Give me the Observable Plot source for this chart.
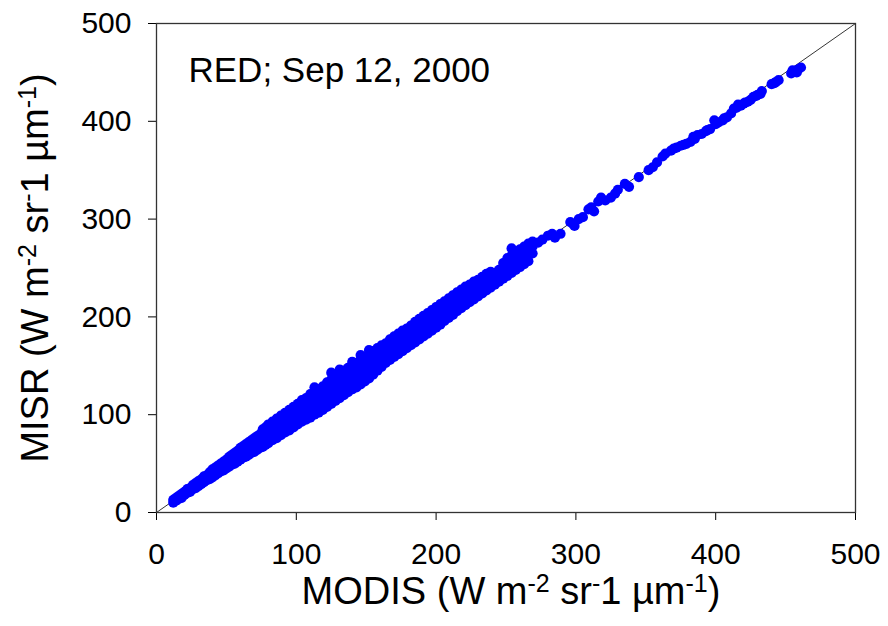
<!DOCTYPE html>
<html>
<head>
<meta charset="utf-8">
<script src="https://cdn.jsdelivr.net/npm/d3@7"></script>
<script src="https://cdn.jsdelivr.net/npm/@observablehq/plot@0.6"></script>
<style>
  html, body { margin: 0; padding: 0; background: #fff; }
  #chart svg { display: block; }
</style>
</head>
<body>
<div id="chart"></div>
<script>
// ---- Data ----
const xTicks = [0, 100, 200, 300, 400, 500];
const yTicks = [0, 100, 200, 300, 400, 500];
const annotation = ["RED; Sep 12, 2000"];
const identity = [0, 500]; // 1:1 reference line end values

// Dense part of the cloud: MODIS value per column, MISR values in that column
const modisCols = [12,14,16,18,20,22,24,26,28,30,32,34,36,38,40,42,44,46,48,50,
  52,54,56,58,60,62,64,66,68,70,72,74,76,78,80,83,86,89,92,95,98,101,104,107,110,
  113,116,119,122,125,128,131,134,137,140,143,146,149,152,155,158,161,164,167,170,
  173,176,179,182,185,188,191,194,197,200,203,206,209,212,215,218,221,224,227,230,
  233,236,239,242,245,248,251,254,257,260,263,266,269];
const misrCols = [
  [10,13],[12,15],[14,17],[15,19],[18,21],[20,24],[21,25],[24,28],[25,30],[27,32],
  [29,34],[31,36,37],[33,38],[34,38,41],[36,41,44],[38,43,46],[40,44,48],[42,47,50],[43,48,52],[45,50,54],
  [47,52,57],[49,54,59],[50,56,61],[52,58,63],[54,60,66],[56,62,68],[57,63,70],[59,65,72],[61,67,74],[62,69,76],
  [64,71,78],[66,73,80],[67,74,81,85],[69,76,83,87],[71,78,85,90],[74,81,88,93],[76,83,90,96],[79,86,93,99],[82,89,96,102],[84,91,98,105],
  [87,94,101,108],[90,97,104,111],[93,100,107,115],[95,102,109,117],[97,104,112,121],[100,107,115,124,128],[102,110,118,126],[105,113,121,129],[108,116,124,133],[111,119,127,136,143],
  [114,122,130,139],[117,125,133,142,146],[120,128,136,145],[123,131,139,148],[126,134,142,150,154],[128,136,144,153],[131,139,147,156,161],[134,142,150,159],[137,145,153,162,166],[141,149,157,165],
  [145,152,160,168],[149,156,163,171],[153,159,166,173],[156,162,169,177],[159,165,172,180],[162,168,175,183],[165,171,178,186],[168,174,181,188],[171,177,184,191],[174,180,187,195],
  [177,183,190,198],[180,186,193,201],[183,189,196,204],[186,192,199,207],[189,195,202,210],[192,198,205,213],[196,202,209,216],[199,205,212,219],[202,208,215,222],[206,212,218,225],
  [209,215,221,228],[212,218,224,231],[215,221,227,233],[218,224,230,236],[221,227,233,238],[224,230,236,241],[227,233,239,244],[230,236,242,246],[233,239,245],[236,242,248],
  [239,245,251,255],[242,248,254,260],[245,251,257,263,270],[248,254,260,266],[251,257,263,269],[254,260,266,272],[257,263,269,275],[265,272,277]
];
// Sparse upper part of the cloud
const tailModis = [273,276,280,283,285,289,296,298,299,302,305,309,311,313,316,318,321,325,328,330,
  335,338,345,352,355,358,362,364,368,370,372,375,377,379,382,384,385,387,390,393,
  394,396,399,400,402,405,406,408,411,413,415,416,418,420,421,423,425,427,429,430,
  432,433,440,442,443,445,454,455,456,458,459,461];
const tailMisr = [276,279,283,285,281,285,297,295,293,300,302,310,312,308,318,322,319,322,326,330,
  336,333,343,350,353,358,364,367,370,372,373,375,376,377,379,384,382,386,387,390,
  391,392,401,397,399,401,403,404,408,413,414,417,416,418,419,420,422,425,426,427,
  428,431,438,439,440,442,449,452,451,450,453,455];

const points = modisCols.flatMap((m, i) => misrCols[i].map(v => ({modis: m, misr: v})))
  .concat(tailModis.map((m, i) => ({modis: m, misr: tailMisr[i]})));

const FONT = "'Liberation Sans', Arial, Helvetica, sans-serif";

const chart = Plot.plot({
  width: 888,
  height: 626,
  marginLeft: 156,
  marginRight: 33,
  marginTop: 23,
  marginBottom: 114,
  style: {background: "#fff", color: "#000", fontFamily: FONT, fontSize: "30px", overflow: "visible"},
  x: {domain: [0, 500], ticks: xTicks, tickSize: 8, tickPadding: 22, label: null},
  y: {domain: [0, 500], ticks: yTicks, tickSize: 8, tickPadding: 17, label: null},
  marks: [
    Plot.line(identity, {x: d => d, y: d => d, stroke: "#000", strokeWidth: 0.8}),
    Plot.dot(points, {x: "modis", y: "misr", r: 5.1, fill: "#0000ff"}),
    Plot.frame({stroke: "#333", strokeWidth: 1.3}),
    Plot.text(annotation, {text: d => d, frameAnchor: "top-left", dx: 32, dy: 34,
      textAnchor: "start", lineAnchor: "top", fontSize: 35, fill: "#000"})
  ]
});
document.getElementById("chart").appendChild(chart);

// Axis titles with superscripts
const svg = d3.select(chart);
function addTitle(parts, transform) {
  const t = svg.append("text")
    .attr("transform", transform)
    .attr("text-anchor", "middle")
    .attr("font-family", FONT)
    .attr("font-size", 38)
    .attr("fill", "#000");
  let raised = false;
  for (const [s, sup] of parts) {
    const ts = t.append("tspan").text(s);
    if (sup && !raised) { ts.attr("dy", -12).attr("font-size", 25); raised = true; }
    else if (sup) { ts.attr("font-size", 25); }
    else if (!sup && raised) { ts.attr("dy", 12); raised = false; }
  }
}
const unitParts = [[" (W m", false], ["-2", true], [" sr", false], ["-", true], ["1 \u00b5m", false], ["-1", true], [")", false]];
addTitle([["MODIS", false], ...unitParts], "translate(511,604)");
addTitle([["MISR", false], ...unitParts], "translate(48,268) rotate(-90)");
</script>
</body>
</html>
